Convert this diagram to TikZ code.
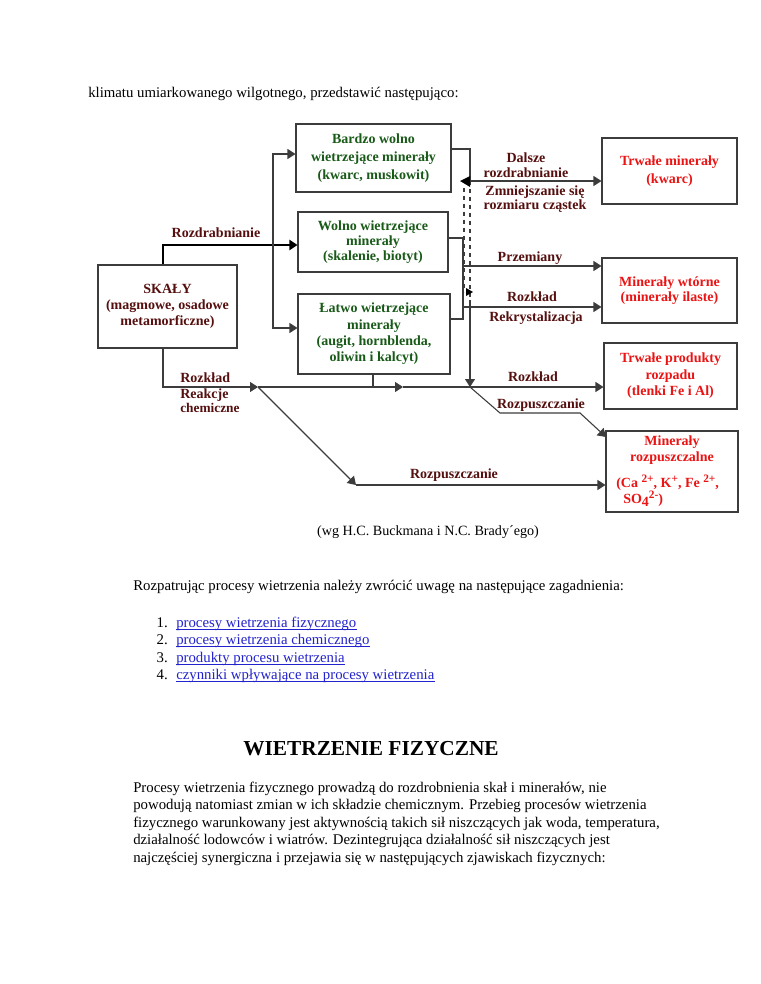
\documentclass[tikz,border=0pt]{standalone}
\usepackage{fontspec}
\setmainfont{Liberation Serif}
\usetikzlibrary{arrows.meta}
\definecolor{dgreen}{RGB}{25,90,25}
\definecolor{maroon}{RGB}{85,15,15}
\definecolor{rred}{RGB}{235,20,20}
\definecolor{linkblue}{RGB}{35,35,205}
\definecolor{lgray}{RGB}{60,60,60}
\newcommand\pxl[1]{#1*0.75pt}
\newcommand\supx[1]{\raisebox{3.6pt}{\fontsize{8.5}{9}\selectfont #1}}
\begin{document}
\begin{tikzpicture}[x=0.75pt, y=-0.75pt,
  >={Triangle[length=6pt,width=7.5pt]},
  box/.style={draw=lgray, line width=0.8pt, inner sep=0pt, align=center, fill=white},
  lbl/.style={text=maroon, font=\fontsize{10.5}{12}\selectfont\bfseries, inner sep=0pt, align=center},
  conn/.style={draw=lgray, line width=0.8pt},
  body/.style={font=\fontsize{11.1}{14}\selectfont, inner sep=0pt, anchor=base west},
  link/.style={body, text=linkblue},
  uline/.style={draw=linkblue, line width=0.6pt},
  rtext/.style={text=rred, font=\fontsize{10.5}{11.5}\selectfont\bfseries, inner sep=0pt}
]
\useasboundingbox (0,0) rectangle (760,984);
\fill[white] (0,0) rectangle (760,984);

% intro text
\node[body] (intro) at (88,98) {klimatu umiarkowanego wilgotnego, przedstawić następująco:};

% boxes
\node[box, minimum width=\pxl{155}, minimum height=\pxl{68}, text=dgreen,
  font=\fontsize{10.5}{13.5}\selectfont\bfseries] (b1) at (373.5,158)
  {Bardzo wolno\\wietrzejące minerały\\(kwarc, muskowit)};
\node[box, minimum width=\pxl{150}, minimum height=\pxl{60}, text=dgreen,
  font=\fontsize{10.5}{11}\selectfont\bfseries] (b2) at (373,242)
  {Wolno wietrzejące\\minerały\\(skalenie, biotyt)};
\node[box, minimum width=\pxl{152}, minimum height=\pxl{80}, text=dgreen,
  font=\fontsize{10.5}{12.2}\selectfont\bfseries] (b3) at (374,334)
  {Łatwo wietrzejące\\minerały\\(augit, hornblenda,\\oliwin i kalcyt)};
\node[box, minimum width=\pxl{139}, minimum height=\pxl{83}, text=maroon,
  font=\fontsize{10.5}{11.8}\selectfont\bfseries] (sk) at (167.5,306.5)
  {SKAŁY\\(magmowe, osadowe\\metamorficzne)};
\node[box, minimum width=\pxl{135}, minimum height=\pxl{66}, text=rred,
  font=\fontsize{10.5}{14}\selectfont\bfseries] (T1) at (669.5,171)
  {Trwałe minerały\\(kwarc)};
\node[box, minimum width=\pxl{135}, minimum height=\pxl{65}, text=rred,
  font=\fontsize{10.5}{11.5}\selectfont\bfseries] (T2) at (669.5,290.5)
  {Minerały wtórne\\(minerały ilaste)};
\node[box, minimum width=\pxl{133}, minimum height=\pxl{66}, text=rred,
  font=\fontsize{10.5}{12.3}\selectfont\bfseries] (T3) at (670.5,376)
  {Trwałe produkty\\rozpadu\\(tlenki Fe i Al)};
\node[box, minimum width=\pxl{132}, minimum height=\pxl{81}] (T4) at (672,471.5) {};
\node[rtext, align=center] (T4a) at (672,450) {Minerały\\rozpuszczalne};
\node[rtext, anchor=base west] (T4b) at (616,487) {(Ca \supx{2+}, K\supx{+}, Fe \supx{2+},};
\node[rtext, anchor=base west] (T4c) at (623,503) {SO\raisebox{-2.5pt}{4}\supx{2-})};

% coordinates
\coordinate (j1) at (163,245);
\coordinate (t1) at (273,154);
\coordinate (t3) at (273,328);
\coordinate (r1) at (470,149);
\coordinate (r2) at (470,181);
\coordinate (r3) at (470,300);
\coordinate (rd) at (470,387);
\coordinate (d1) at (464,188);
\coordinate (d2) at (464,292);
\coordinate (m1) at (463,238);
\coordinate (m2) at (463,319);
\coordinate (p1) at (463,266);
\coordinate (p2) at (463,307);
\coordinate (sb) at (163,387);
\coordinate (a1) at (258,387);
\coordinate (a2) at (403,387);
\coordinate (j3) at (373,387);
\coordinate (u1) at (500,413);
\coordinate (u2) at (580,413);
\coordinate (u3) at (606,437);
\coordinate (q) at (356,485);

% connectors left
\draw[line width=1.6pt, ->] (sk.north -| j1) -- (j1) -- (b2.west |- j1);
\draw[conn, <->] (b1.west |- t1) -- (t1) -- (t3) -- (b3.west |- t3);

% connectors right
\draw[conn] (b1.east |- r1) -- (r1) -- (r2);
\draw[conn, dashed] (r2) -- (r3);
\draw[conn, ->] (r3) -- (rd);
\draw[conn, ->] (r2) -- (T1.west |- r2);
\draw[conn, dashed] (d1) -- (d2);
\fill[black] (460,181) -- (470,176) -- (470,187) -- cycle;
\fill[black] (473,292) -- (466,288) -- (466,296) -- cycle;
\draw[conn] (b2.east |- m1) -- (m1) -- (m2) -- (b3.east |- m2);
\draw[conn, ->] (p1) -- (T2.west |- p1);
\draw[conn, ->] (p2) -- (T2.west |- p2);

% bottom
\draw[conn, ->] (sk.south -| sb) -- (sb) -- (a1);
\draw[conn, ->] (a1) -- (a2);
\draw[conn, ->] (a2) -- (T3.west |- a2);
\draw[conn] (b3.south -| j3) -- (j3);
\draw[conn, ->] (rd) -- (u1) -- (u2) -- (u3);
\draw[conn, ->] (a1) -- (q);
\draw[conn, ->] (q) -- (T4.west |- q);

% labels
\node[lbl] (lRozdr) at (216,233) {Rozdrabnianie};
\node[lbl, font=\fontsize{10.5}{11.3}\selectfont\bfseries] (lDal) at (526,165) {Dalsze\\rozdrabnianie};
\node[lbl, font=\fontsize{10.5}{10.5}\selectfont\bfseries] (lZm) at (535,199) {Zmniejszanie się\\rozmiaru cząstek};
\node[lbl] (lPrz) at (530,258) {Przemiany};
\node[lbl] (lRoz1) at (532,297) {Rozkład};
\node[lbl] (lRek) at (536,318) {Rekrystalizacja};
\node[lbl] (lRoz2) at (533,377) {Rozkład};
\node[lbl] (lRp1) at (541,405) {Rozpuszczanie};
\node[lbl] (lRp2) at (454,475) {Rozpuszczanie};
\node[lbl, anchor=west] (lRoz3) at (180,378) {Rozkład};
\node[lbl, anchor=base west] (lReak) at (180,398) {Reakcje};
\node[lbl, anchor=base west, font=\fontsize{10}{11}\selectfont\bfseries] (lChem) at (180,412.5) {chemiczne};

% caption
\node[font=\fontsize{10.6}{12}\selectfont, inner sep=0pt] (cap) at (428,532) {(wg H.C. Buckmana i N.C. Brady´ego)};

% body
\node[body] (rozp) at (133,590) {Rozpatrując procesy wietrzenia należy zwrócić uwagę na następujące zagadnienia:};
\node[body, anchor=base east] (n1) at (168,627) {1.};
\node[body, anchor=base east] (n2) at (168,644.5) {2.};
\node[body, anchor=base east] (n3) at (168,662) {3.};
\node[body, anchor=base east] (n4) at (168,679.5) {4.};
\node[link] (l1) at (176,627) {procesy wietrzenia fizycznego};
\node[link] (l2) at (176,644.5) {procesy wietrzenia chemicznego};
\node[link] (l3) at (176,662) {produkty procesu wietrzenia};
\node[link] (l4) at (176,679.5) {czynniki wpływające na procesy wietrzenia};
\draw[uline] ([yshift=-1.6pt]l1.base west) -- ([yshift=-1.6pt]l1.base east);
\draw[uline] ([yshift=-1.6pt]l2.base west) -- ([yshift=-1.6pt]l2.base east);
\draw[uline] ([yshift=-1.6pt]l3.base west) -- ([yshift=-1.6pt]l3.base east);
\draw[uline] ([yshift=-1.6pt]l4.base west) -- ([yshift=-1.6pt]l4.base east);

\node[font=\fontsize{16}{18}\selectfont\bfseries, inner sep=0pt, anchor=base] (head) at (371,755) {WIETRZENIE FIZYCZNE};

\node[body] (p1l) at (133,792) {Procesy wietrzenia fizycznego prowadzą do rozdrobnienia skał i minerałów, nie};
\node[body] (p2l) at (133,809.5) {powodują natomiast zmian w ich składzie chemicznym. Przebieg procesów wietrzenia};
\node[body] (p3l) at (133,827) {fizycznego warunkowany jest aktywnością takich sił niszczących jak woda, temperatura,};
\node[body] (p4l) at (133,844.5) {działalność lodowców i wiatrów. Dezintegrująca działalność sił niszczących jest};
\node[body] (p5l) at (133,862) {najczęściej synergiczna i przejawia się w następujących zjawiskach fizycznych:};
\end{tikzpicture}
\end{document}
